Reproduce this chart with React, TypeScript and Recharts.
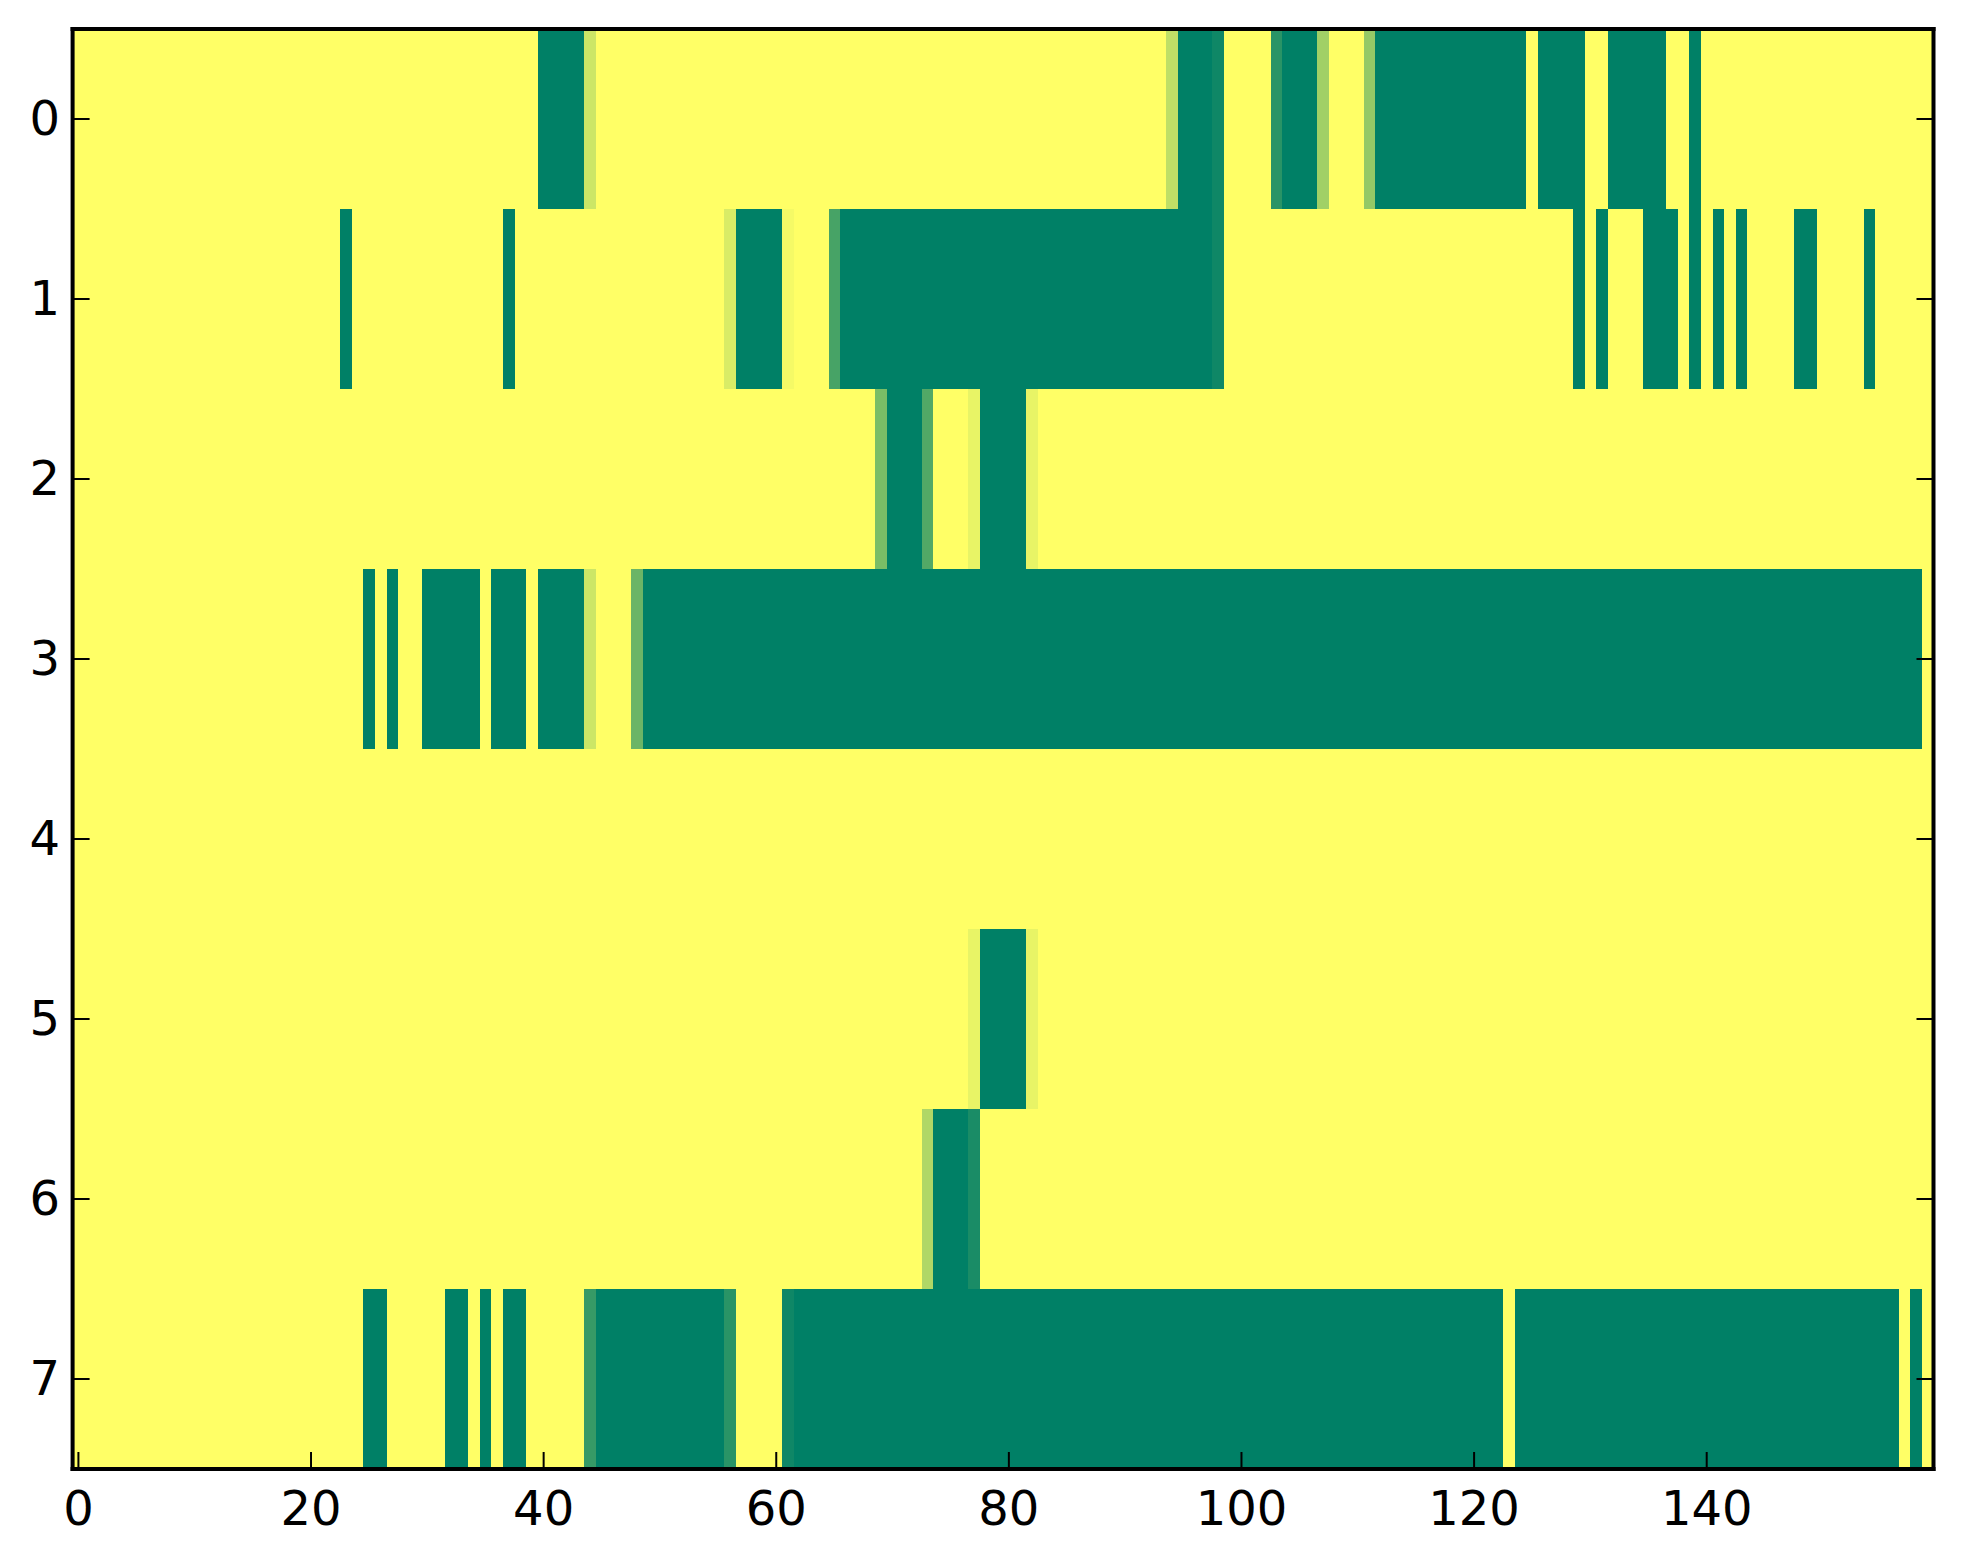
import React from 'react';
import { ScatterChart, Scatter, XAxis, YAxis } from 'recharts';

// ---------- data ----------
const COLUMN_COUNT = 160;
const ROW_LABELS = [0, 1, 2, 3, 4, 5, 6, 7];
const X_TICKS = [0, 20, 40, 60, 80, 100, 120, 140];
const Y_TICKS = [0, 1, 2, 3, 4, 5, 6, 7];
const BACKGROUND_VALUE = 1; // yellow end of the colormap

// runs per row: [firstColumn, lastColumn, value]; every other cell = BACKGROUND_VALUE
const row0Runs = [
  [40, 43, 0], [44, 44, 0.8], [94, 94, 0.75], [95, 97, 0], [98, 98, 0.06],
  [103, 103, 0.16], [104, 106, 0], [107, 107, 0.63], [111, 111, 0.58],
  [112, 124, 0], [126, 129, 0], [132, 136, 0], [139, 139, 0],
];
const row1Runs = [
  [23, 23, 0], [37, 37, 0], [56, 56, 0.85], [57, 60, 0], [61, 61, 0.96],
  [65, 65, 0.28], [66, 97, 0], [98, 98, 0.06], [129, 129, 0], [131, 131, 0],
  [135, 137, 0], [139, 139, 0], [141, 141, 0], [143, 143, 0], [148, 149, 0],
  [154, 154, 0],
];
const row2Runs = [
  [69, 69, 0.48], [70, 72, 0], [73, 73, 0.32], [77, 77, 0.91], [78, 81, 0],
  [82, 82, 0.91],
];
const row3Runs = [
  [25, 25, 0], [27, 27, 0], [30, 34, 0], [36, 38, 0], [40, 43, 0],
  [44, 44, 0.8], [48, 48, 0.42], [49, 158, 0],
];
const row4Runs: number[][] = [];
const row5Runs = [[77, 77, 0.91], [78, 81, 0], [82, 82, 0.91]];
const row6Runs = [[73, 73, 0.69], [74, 76, 0], [77, 77, 0.1]];
const row7Runs = [
  [25, 26, 0], [32, 33, 0], [35, 35, 0], [37, 38, 0], [44, 44, 0.21],
  [45, 55, 0], [56, 56, 0.16], [61, 61, 0.06], [62, 122, 0], [124, 156, 0],
  [158, 158, 0],
];
const ROW_RUNS = [row0Runs, row1Runs, row2Runs, row3Runs, row4Runs, row5Runs, row6Runs, row7Runs];

// ---------- build the cell table (one entry per horizontal run of equal cells) ----------
type Seg = { x: number; y: number; span: number; v: number };
const segments: Seg[] = [];
ROW_RUNS.forEach((runs, r) => {
  const vals: number[] = new Array(COLUMN_COUNT).fill(BACKGROUND_VALUE);
  runs.forEach(([a, b, v]) => {
    for (let c = a; c <= b; c++) vals[c] = v;
  });
  let start = 0;
  for (let c = 1; c <= COLUMN_COUNT; c++) {
    if (c === COLUMN_COUNT || vals[c] !== vals[start]) {
      const end = c - 1;
      segments.push({ x: (start + end) / 2, y: ROW_LABELS[r], span: end - start + 1, v: vals[start] });
      start = c;
    }
  }
});

// matplotlib "summer" colormap
const summer = (v: number) => {
  const r = Math.round(255 * v);
  const g = Math.round(255 * (0.5 + 0.5 * v));
  return `rgb(${r},${g},102)`;
};

// ---------- layout ----------
const WIDTH = 1955;
const HEIGHT = 1556;
const LEFT_W = 64.6;
const RIGHT_W = 29.5;
const TOP_H = 21;
const BOTTOM_H = 95;
const PLOT_W = WIDTH - LEFT_W - RIGHT_W;
const PLOT_H = HEIGHT - TOP_H - BOTTOM_H;
const CELL_W = PLOT_W / COLUMN_COUNT;
const CELL_H = PLOT_H / ROW_LABELS.length;

const FONT = 'DejaVu Sans, sans-serif';
const FONT_SIZE = 48;
const TICK_LEN = 17;
const AXIS_LINE = { stroke: '#000', strokeWidth: 4, strokeLinecap: 'square' as const };

const SegShape = (p: any) => {
  const w = p.payload.span * CELL_W;
  return (
    <rect
      x={p.cx - w / 2}
      y={p.cy - CELL_H / 2 - 0.3}
      width={w}
      height={CELL_H + 0.6}
      fill={summer(p.payload.v)}
      stroke="none"
      shapeRendering="crispEdges"
    />
  );
};

const BottomTick = (p: any) => (
  <g>
    <line x1={p.x} y1={p.y} x2={p.x} y2={p.y - TICK_LEN} stroke="#000" strokeWidth={2} />
    <text x={p.x} y={p.y + 56} textAnchor="middle" fontSize={FONT_SIZE} fontFamily={FONT} fill="#000">
      {p.payload.value}
    </text>
  </g>
);
const TopTick = (p: any) => (
  <line x1={p.x} y1={p.y} x2={p.x} y2={p.y + TICK_LEN} stroke="#000" strokeWidth={2} />
);
const LeftTick = (p: any) => (
  <g>
    <line x1={p.x} y1={p.y} x2={p.x + TICK_LEN} y2={p.y} stroke="#000" strokeWidth={2} />
    <text x={p.x - 12.5} y={p.y + 16} textAnchor="end" fontSize={FONT_SIZE} fontFamily={FONT} fill="#000">
      {p.payload.value}
    </text>
  </g>
);
const RightTick = (p: any) => (
  <line x1={p.x} y1={p.y} x2={p.x - TICK_LEN} y2={p.y} stroke="#000" strokeWidth={2} />
);

const axisCommon: any = {
  interval: 0,
  tickSize: 0,
  tickMargin: 0,
  tickLine: false,
  axisLine: AXIS_LINE,
  allowDataOverflow: true,
  zIndex: 1500,
};

export default function App() {
  return (
    <ScatterChart width={WIDTH} height={HEIGHT} margin={{ top: 0, right: 0, bottom: 0, left: 0 }}>
      <Scatter
        data={segments}
        dataKey="v"
        shape={SegShape}
        isAnimationActive={false}
        {...({ zIndex: 0 } as any)}
      />
      <XAxis
        {...axisCommon}
        type="number"
        dataKey="x"
        domain={[-0.5, COLUMN_COUNT - 0.5]}
        ticks={X_TICKS}
        height={BOTTOM_H}
        tick={BottomTick}
      />
      <XAxis
        {...axisCommon}
        xAxisId="top"
        orientation="top"
        type="number"
        domain={[-0.5, COLUMN_COUNT - 0.5]}
        ticks={X_TICKS}
        height={TOP_H}
        tick={TopTick}
      />
      <YAxis
        {...axisCommon}
        type="number"
        dataKey="y"
        domain={[-0.5, ROW_LABELS.length - 0.5]}
        reversed
        ticks={Y_TICKS}
        width={LEFT_W}
        tick={LeftTick}
      />
      <YAxis
        {...axisCommon}
        yAxisId="right"
        orientation="right"
        type="number"
        domain={[-0.5, ROW_LABELS.length - 0.5]}
        reversed
        ticks={Y_TICKS}
        width={RIGHT_W}
        tick={RightTick}
      />
    </ScatterChart>
  );
}
